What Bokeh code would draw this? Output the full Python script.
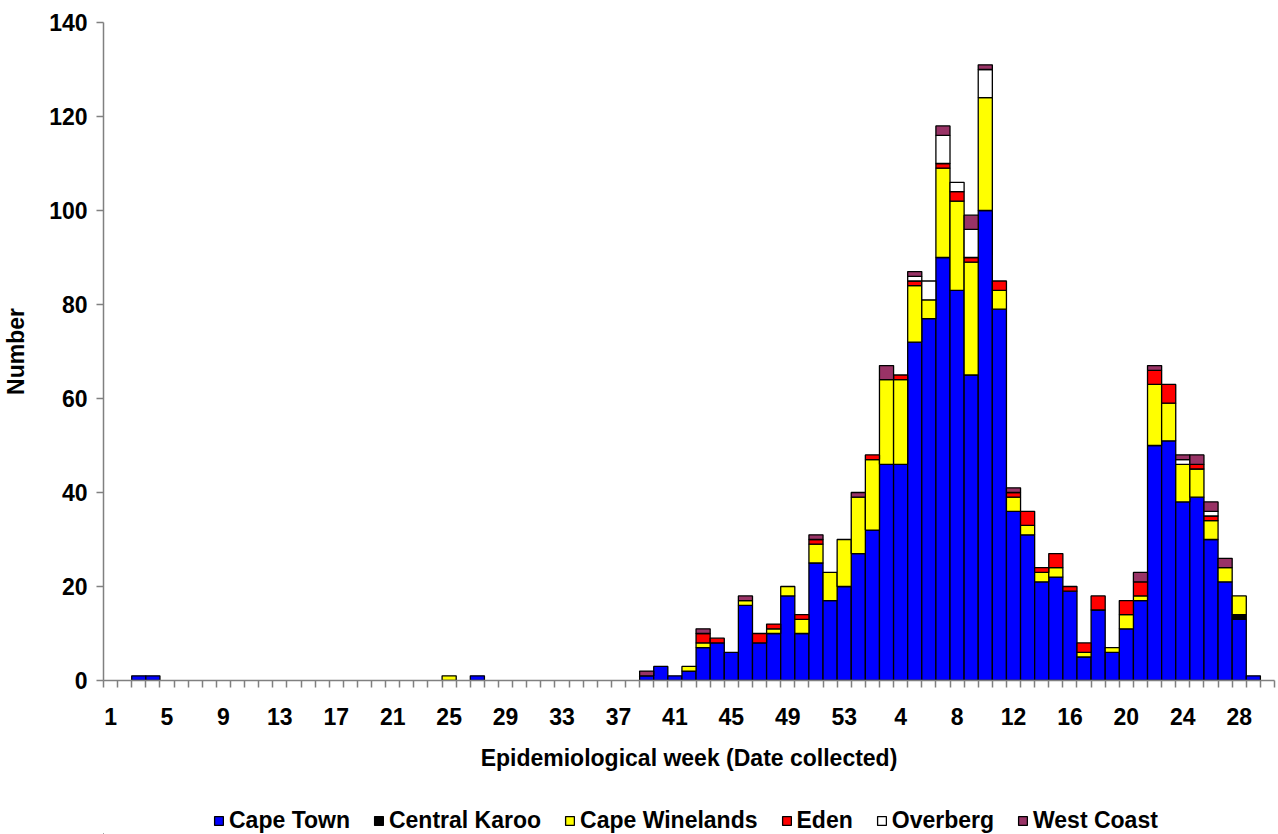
from bokeh.plotting import figure
from bokeh.layouts import column
from bokeh.models import ColumnDataSource, FixedTicker, Legend, LegendItem, Range1d
from bokeh.embed import file_html
from bokeh.resources import INLINE

# Epidemiological weeks: weeks 1-53 of the first year, then weeks 1-30 of the next
week_labels = [str(w) for w in range(1, 54)] + [str(w) for w in range(1, 31)]

cape_town = [
    0, 0, 1, 1, 0, 0, 0, 0, 0, 0,
    0, 0, 0, 0, 0, 0, 0, 0, 0, 0,
    0, 0, 0, 0, 0, 0, 1, 0, 0, 0,
    0, 0, 0, 0, 0, 0, 0, 0, 1, 3,
    1, 2, 7, 8, 6, 16, 8, 10, 18, 10,
    25, 17, 20, 27, 32, 46, 46, 72, 77, 90,
    83, 65, 100, 79, 36, 31, 21, 22, 19, 5,
    15, 6, 11, 17, 50, 51, 38, 39, 30, 21,
    13, 1, 0,
]
central_karoo = [
    0, 0, 0, 0, 0, 0, 0, 0, 0, 0,
    0, 0, 0, 0, 0, 0, 0, 0, 0, 0,
    0, 0, 0, 0, 0, 0, 0, 0, 0, 0,
    0, 0, 0, 0, 0, 0, 0, 0, 0, 0,
    0, 0, 0, 0, 0, 0, 0, 0, 0, 0,
    0, 0, 0, 0, 0, 0, 0, 0, 0, 0,
    0, 0, 0, 0, 0, 0, 0, 0, 0, 0,
    0, 0, 0, 0, 0, 0, 0, 0, 0, 0,
    1, 0, 0,
]
cape_winelands = [
    0, 0, 0, 0, 0, 0, 0, 0, 0, 0,
    0, 0, 0, 0, 0, 0, 0, 0, 0, 0,
    0, 0, 0, 0, 1, 0, 0, 0, 0, 0,
    0, 0, 0, 0, 0, 0, 0, 0, 0, 0,
    0, 1, 1, 0, 0, 1, 0, 1, 2, 3,
    4, 6, 10, 12, 15, 18, 18, 12, 4, 19,
    19, 24, 24, 4, 3, 2, 2, 2, 0, 1,
    0, 1, 3, 1, 13, 8, 8, 6, 4, 3,
    4, 0, 0,
]
eden = [
    0, 0, 0, 0, 0, 0, 0, 0, 0, 0,
    0, 0, 0, 0, 0, 0, 0, 0, 0, 0,
    0, 0, 0, 0, 0, 0, 0, 0, 0, 0,
    0, 0, 0, 0, 0, 0, 0, 0, 0, 0,
    0, 0, 2, 1, 0, 0, 2, 1, 0, 1,
    1, 0, 0, 0, 1, 0, 1, 1, 0, 1,
    2, 1, 0, 2, 1, 3, 1, 3, 1, 2,
    3, 0, 3, 3, 3, 4, 0, 1, 1, 0,
    0, 0, 0,
]
overberg = [
    0, 0, 0, 0, 0, 0, 0, 0, 0, 0,
    0, 0, 0, 0, 0, 0, 0, 0, 0, 0,
    0, 0, 0, 0, 0, 0, 0, 0, 0, 0,
    0, 0, 0, 0, 0, 0, 0, 0, 0, 0,
    0, 0, 0, 0, 0, 0, 0, 0, 0, 0,
    0, 0, 0, 0, 0, 0, 0, 1, 4, 6,
    2, 6, 6, 0, 0, 0, 0, 0, 0, 0,
    0, 0, 0, 0, 0, 0, 1, 0, 1, 0,
    0, 0, 0,
]
west_coast = [
    0, 0, 0, 0, 0, 0, 0, 0, 0, 0,
    0, 0, 0, 0, 0, 0, 0, 0, 0, 0,
    0, 0, 0, 0, 0, 0, 0, 0, 0, 0,
    0, 0, 0, 0, 0, 0, 0, 0, 1, 0,
    0, 0, 1, 0, 0, 1, 0, 0, 0, 0,
    1, 0, 0, 1, 0, 3, 0, 1, 0, 2,
    0, 3, 1, 0, 1, 0, 0, 0, 0, 0,
    0, 0, 0, 2, 1, 0, 1, 2, 2, 2,
    0, 0, 0,
]

series_names = ["Cape Town", "Central Karoo", "Cape Winelands", "Eden", "Overberg", "West Coast"]
series_values = [cape_town, central_karoo, cape_winelands, eden, overberg, west_coast]
series_colors = ["#0000FF", "#000000", "#FFFF00", "#FF0000", "#FFFFFF", "#993366"]

FONT = "Liberation Sans"
FS = "23px"
n = len(week_labels)
x = list(range(1, n + 1))

data = {"x": x}
keys = []
lc_keys = []
for k, vals in enumerate(series_values):
    key = f"s{k}"
    keys.append(key)
    data[key] = vals
    lc = f"lc{k}"
    lc_keys.append(lc)
    data[lc] = ["#000000" if v > 0 else None for v in vals]
source = ColumnDataSource(data)

p = figure(
    width=1278, height=780,
    x_range=Range1d(0.5, n + 0.5), y_range=Range1d(0, 140),
    output_backend="svg", toolbar_location=None,
    min_border_left=101, min_border_right=4, min_border_top=22, min_border_bottom=100,
)
p.outline_line_color = None
p.xgrid.grid_line_color = None
p.ygrid.grid_line_color = None
p.background_fill_color = "white"

renderers = p.vbar_stack(
    keys, x="x", width=1.0, source=source,
    fill_color=series_colors, line_color=lc_keys, line_width=1.3,
)

# x axis: tick marks at category boundaries, labels every 4th week
label_pos = list(range(1, n + 1, 4))
xax = p.xaxis[0]
xax.ticker = FixedTicker(ticks=label_pos, minor_ticks=[i + 0.5 for i in range(0, n + 1)])
xax.major_label_overrides = {i: week_labels[i - 1] for i in label_pos}
xax.major_tick_line_color = None
xax.major_tick_out = 0
xax.major_tick_in = 0
xax.minor_tick_line_color = "#808080"
xax.minor_tick_line_width = 1.5
xax.minor_tick_out = 7
xax.minor_tick_in = 0
xax.axis_line_color = "#808080"
xax.axis_line_width = 1.5
xax.major_label_standoff = 20
xax.major_label_text_font = FONT
xax.major_label_text_font_style = "bold"
xax.major_label_text_font_size = FS
xax.major_label_text_color = "black"
xax.axis_label = "Epidemiological week (Date collected)"
xax.axis_label_text_font = FONT
xax.axis_label_text_font_style = "bold"
xax.axis_label_text_font_size = FS
xax.axis_label_text_color = "black"
xax.axis_label_standoff = 17

yax = p.yaxis[0]
yax.ticker = FixedTicker(ticks=[0, 20, 40, 60, 80, 100, 120, 140])
yax.major_tick_line_color = "#808080"
yax.major_tick_line_width = 1.5
yax.major_tick_out = 7
yax.major_tick_in = 0
yax.minor_tick_line_color = None
yax.axis_line_color = "#808080"
yax.axis_line_width = 1.5
yax.major_label_standoff = 9
yax.major_label_text_font = FONT
yax.major_label_text_font_style = "bold"
yax.major_label_text_font_size = FS
yax.major_label_text_color = "black"
yax.axis_label = "Number"
yax.axis_label_text_font = FONT
yax.axis_label_text_font_style = "bold"
yax.axis_label_text_font_size = FS
yax.axis_label_text_color = "black"
yax.axis_label_standoff = 17

# Legend strip below the chart (same series, same colours); its swatch
# renderers hold one point placed outside the strip's visible range.
p2 = figure(
    width=1278, height=54, x_range=Range1d(0, 1), y_range=Range1d(0, 1),
    output_backend="svg", toolbar_location=None,
    x_axis_location=None, y_axis_location=None, min_border=0,
)
p2.outline_line_color = None
p2.xgrid.grid_line_color = None
p2.ygrid.grid_line_color = None

items = []
for name, color in zip(series_names, series_colors):
    r = p2.vbar(x=[-5], top=[-5], bottom=[-6], width=0.1,
                fill_color=color, line_color="black", line_width=1.3)
    items.append(LegendItem(label=name, renderers=[r]))

legend = Legend(
    items=items, orientation="horizontal", location=(110, 0),
    label_text_font=FONT, label_text_font_style="bold", label_text_font_size=FS,
    label_text_color="black", glyph_width=11, glyph_height=11, label_standoff=5,
    spacing=23, padding=0, margin=0, border_line_color=None, background_fill_alpha=0,
)
p2.add_layout(legend, "center")

layout = column(p, p2)
open("out.html", "w").write(file_html(layout, INLINE))
